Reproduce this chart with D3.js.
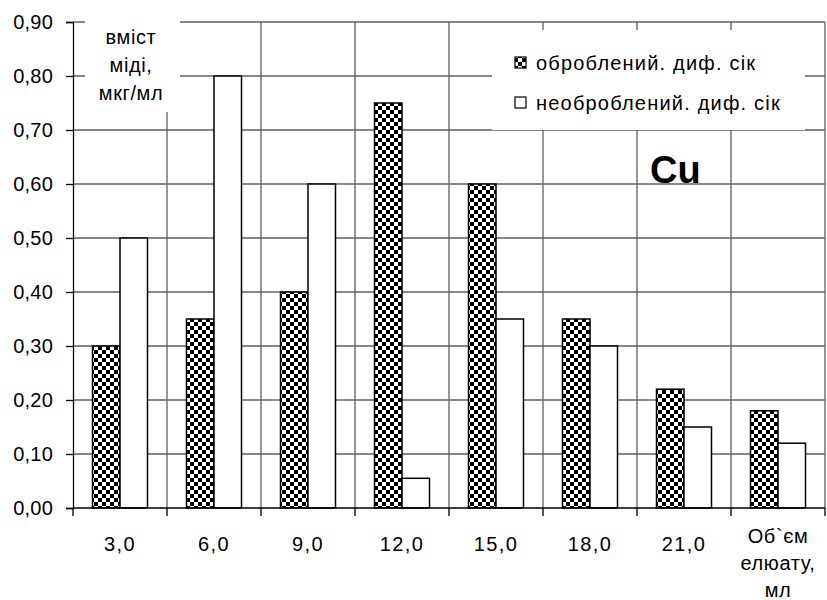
<!DOCTYPE html>
<html>
<head>
<meta charset="utf-8">
<script src="https://cdn.jsdelivr.net/npm/d3@7"></script>
<style>
  html, body { margin: 0; padding: 0; background: #fff; }
  svg text { font-family: "Liberation Sans", Arial, sans-serif; fill: #000; }
</style>
</head>
<body>
<svg id="chart" width="827" height="600"></svg>
<script>
// Elution volume (ml) categories; the last one carries the axis title
const categories = ["3,0", "6,0", "9,0", "12,0", "15,0", "18,0", "21,0", "Об`єм\nелюату,\nмл"];
// Copper content, µg/ml
const treated   = [0.30, 0.35, 0.40, 0.75, 0.60, 0.35, 0.22, 0.18];
const untreated = [0.50, 0.80, 0.60, 0.055, 0.35, 0.30, 0.15, 0.12];
const seriesNames = ["оброблений. диф. сік", "необроблений. диф. сік"];
const yTicks = [0, 0.1, 0.2, 0.3, 0.4, 0.5, 0.6, 0.7, 0.8, 0.9];
const yTitle = ["вміст", "міді,", "мкг/мл"];
const elementLabel = "Cu";

const svg = d3.select("#chart");
const plotL = 73, plotR = 825, plotT = 22, plotB = 508;

const x = d3.scaleBand().domain(categories).range([plotL, plotR]).padding(0);
const xs = d3.scaleBand().domain([0, 1]).range([0, x.bandwidth()])
  .paddingInner(0).paddingOuter(0.709);
const y = d3.scaleLinear().domain([0, 0.9]).range([plotB, plotT]);

// Hatch pattern for the treated series
const defs = svg.append("defs");
const pat = defs.append("pattern").attr("id", "hatch")
  .attr("patternUnits", "userSpaceOnUse").attr("width", 8).attr("height", 8);
pat.append("rect").attr("width", 8).attr("height", 8).attr("fill", "#fff");
[[0,0],[6,0],[2,2],[4,2],[2,4],[4,4],[0,6],[6,6]].forEach(([px, py]) => {
  pat.append("rect").attr("x", px).attr("y", py).attr("width", 2).attr("height", 2).attr("fill", "#000");
});

const gridColor = "#5f5f5f";

// Horizontal gridlines
svg.append("g").selectAll("line").data(yTicks.slice(1)).join("line")
  .attr("x1", plotL).attr("x2", plotR)
  .attr("y1", d => y(d)).attr("y2", d => y(d))
  .attr("stroke", gridColor).attr("stroke-width", 1.3);

// Vertical gridlines at category boundaries
const boundaries = categories.map(c => x(c)).concat([plotR]);
svg.append("g").selectAll("line").data(boundaries.slice(1)).join("line")
  .attr("x1", d => d).attr("x2", d => d)
  .attr("y1", plotT).attr("y2", plotB)
  .attr("stroke", gridColor).attr("stroke-width", 1.3);

// White boxes behind the axis title and legend
svg.append("rect").attr("x", 85).attr("y", 12).attr("width", 95).attr("height", 100).attr("fill", "#fff");
svg.append("rect").attr("x", 492).attr("y", 30).attr("width", 313).attr("height", 100).attr("fill", "#fff");

// Bars
const series = [treated, untreated];
const fills = ["url(#hatch)", "#fff"];
series.forEach((vals, si) => {
  svg.append("g").selectAll("rect").data(vals).join("rect")
    .attr("x", (d, i) => x(categories[i]) + xs(si))
    .attr("width", xs.bandwidth())
    .attr("y", d => y(d))
    .attr("height", d => y(0) - y(d))
    .attr("fill", fills[si])
    .attr("stroke", "#000").attr("stroke-width", 1.5);
});

// Y axis
const yAxis = d3.axisLeft(y).tickValues(yTicks).tickSize(7).tickPadding(13)
  .tickFormat(d => d3.format(".2f")(d).replace(".", ","));
const gy = svg.append("g").attr("transform", `translate(${plotL},0)`).call(yAxis);
gy.attr("font-family", null).attr("font-size", null);
gy.select(".domain").attr("stroke", "#000").attr("stroke-width", 1.3);
gy.selectAll(".tick line").attr("stroke", "#000").attr("stroke-width", 1.3);
gy.selectAll(".tick text").style("font-size", "20px").style("letter-spacing", "0.2px");

// X axis line and boundary ticks
svg.append("line").attr("x1", plotL).attr("x2", plotR).attr("y1", plotB).attr("y2", plotB)
  .attr("stroke", "#000").attr("stroke-width", 1.3);
svg.append("g").selectAll("line").data(boundaries).join("line")
  .attr("x1", d => d).attr("x2", d => d).attr("y1", plotB).attr("y2", plotB + 8)
  .attr("stroke", "#000").attr("stroke-width", 1.3);

// Category labels
const xl = svg.append("g").selectAll("text").data(categories).join("text")
  .attr("text-anchor", "middle")
  .attr("x", d => x(d) + x.bandwidth() / 2)
  .attr("y", 551)
  .style("font-size", "20px").style("letter-spacing", "1.4px");
xl.each(function(d) {
  const lines = d.split("\n");
  const t = d3.select(this);
  if (lines.length > 1) t.attr("y", 543).style("letter-spacing", "0.6px");
  lines.forEach((l, i) => {
    t.append("tspan").attr("x", x(d) + x.bandwidth() / 2).attr("dy", i === 0 ? 0 : 27).text(l);
  });
});

// Axis title
svg.append("g").selectAll("text").data(yTitle).join("text")
  .attr("x", 131).attr("y", (d, i) => 44 + i * 28)
  .attr("text-anchor", "middle")
  .style("font-size", "20px").style("letter-spacing", "0.6px")
  .text(d => d);

// Legend
const lg = svg.append("g");
seriesNames.forEach((name, i) => {
  const cy = 63 + i * 40;
  lg.append("rect").attr("x", 515).attr("y", cy - 6).attr("width", 11).attr("height", 11)
    .attr("fill", fills[i]).attr("stroke", "#000").attr("stroke-width", 1.2);
  lg.append("text").attr("x", 536).attr("y", cy + 7)
    .style("font-size", "20px").style("letter-spacing", "1.2px").text(name);
});

// Element label
svg.append("text").attr("x", 650).attr("y", 183)
  .style("font-size", "38px").style("font-weight", "bold").text(elementLabel);
</script>
</body>
</html>
